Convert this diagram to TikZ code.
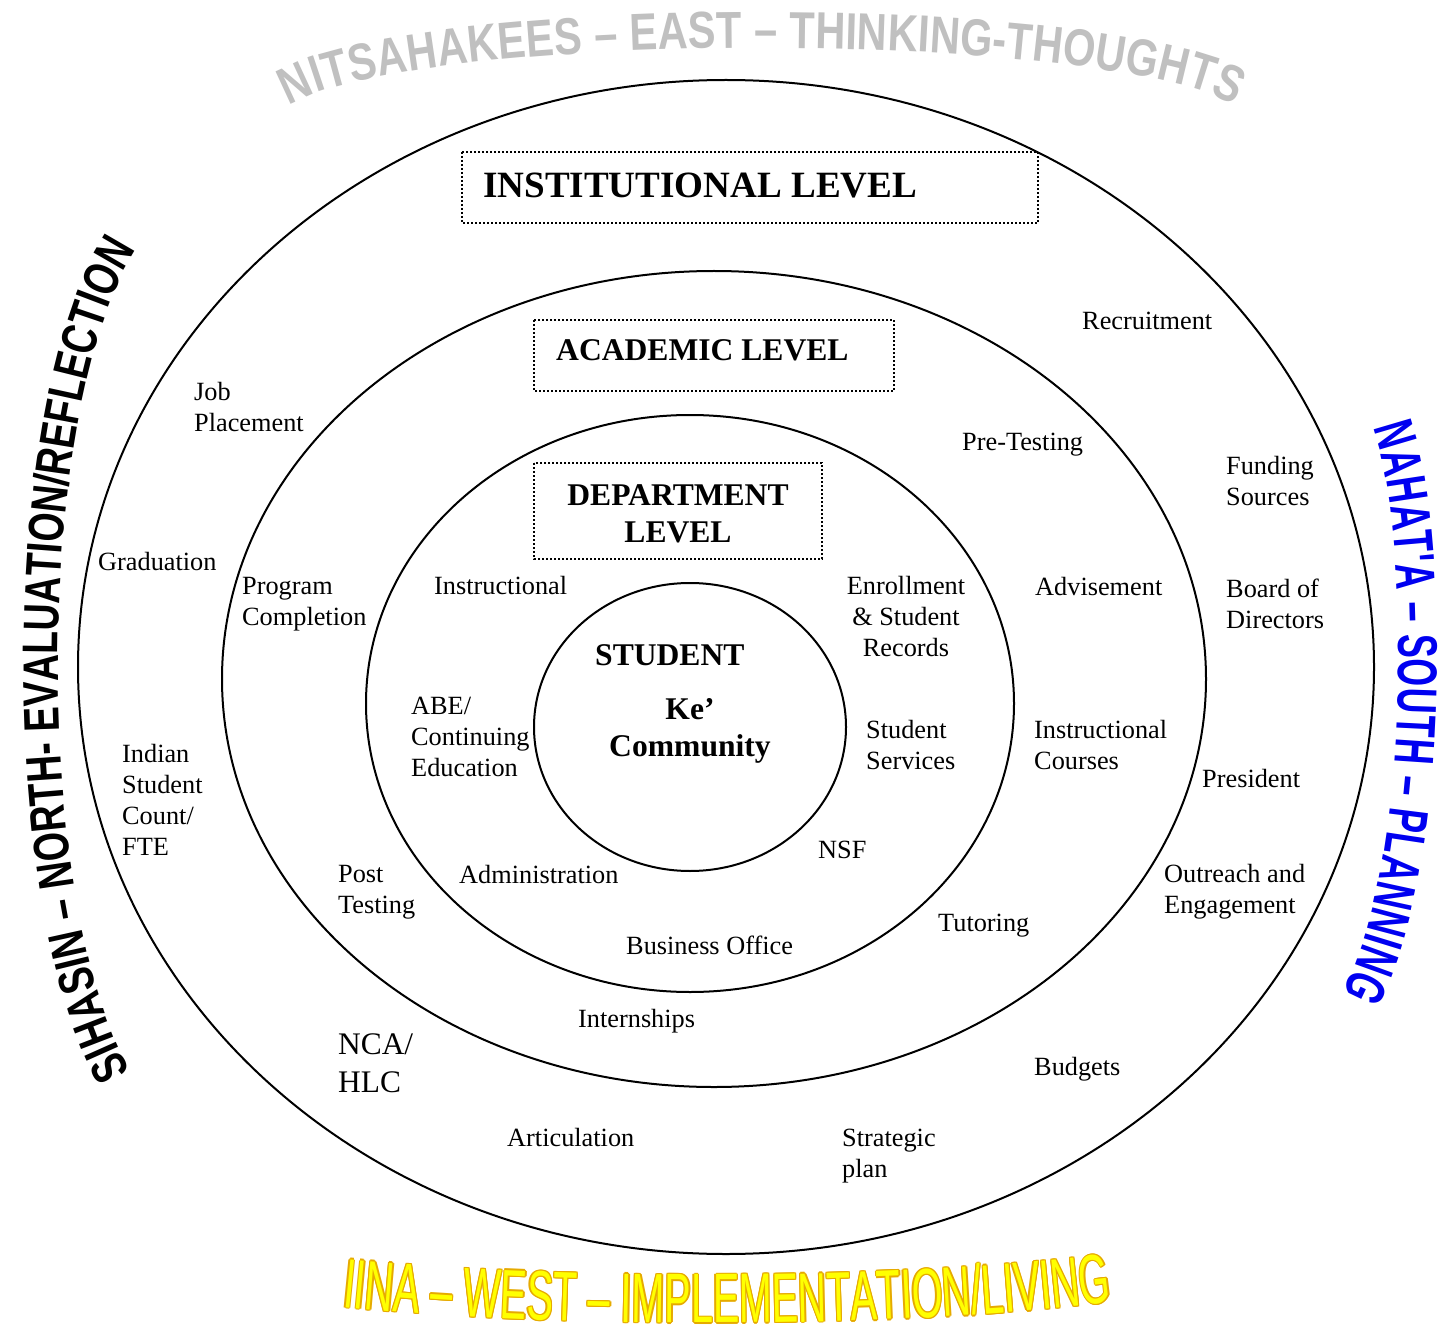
\documentclass[tikz,border=0pt]{standalone}
\usepackage{fontspec}
\setmainfont{Liberation Serif}
\newfontfamily\grayfont[FakeStretch=0.8]{Liberation Sans}
\newfontfamily\leftfont[FakeStretch=0.75]{Liberation Sans}
\newfontfamily\rightfont[FakeStretch=0.64]{Liberation Sans}
\newfontfamily\yelfont[FakeStretch=0.565]{Liberation Sans}
\usetikzlibrary{decorations.text}
\definecolor{wagray}{RGB}{192,192,192}
\definecolor{wablue}{RGB}{0,0,240}
\definecolor{wayellow}{RGB}{255,255,0}
\definecolor{waorange}{RGB}{230,170,0}
\tikzset{
  lab/.style={font=\fontsize{26.3}{31}\selectfont, inner sep=0pt, anchor=base west},
  labc/.style={lab, anchor=base},
  nlab/.style={font=\fontsize{31.4}{38}\selectfont, inner sep=0pt, anchor=base west},
  blab/.style={font=\fontsize{31.6}{37.5}\selectfont\bfseries, inner sep=0pt, anchor=base west},
  ring/.style={draw, line width=2pt},
  dotbox/.style={draw, line width=1.8pt, dash pattern=on 1.8pt off 2.2pt},
}
\begin{document}
\begin{tikzpicture}[x=1pt,y=-1pt]
\path[fill=white, use as bounding box] (0,0) rectangle (1443,1329);

% rings
\draw[ring] (726,667) ellipse [x radius=648, y radius=587];
\draw[ring] (714,679) ellipse [x radius=492, y radius=408];
\draw[ring] (690,703.5) ellipse [x radius=324, y radius=288.5];
\draw[ring] (690,727) ellipse [x radius=156, y radius=144];

% dotted boxes
\draw[dotbox] (462,152) rectangle (1038,223);
\draw[dotbox] (534,320) rectangle (894,391);
\draw[dotbox] (534,463) rectangle (822,559);

% level titles
\node[blab, font=\fontsize{37.1}{44}\selectfont\bfseries] (inst) at (483,198) {INSTITUTIONAL LEVEL};
\node[blab] (acad) at (556,361) {ACADEMIC LEVEL};
\node[blab, anchor=base] (dept) at (678,505) {\begin{tabular}[t]{@{}c@{}}DEPARTMENT\\LEVEL\end{tabular}};
\node[blab] (student) at (595,665) {STUDENT};
\node[blab, anchor=base] (ke) at (690,719) {\begin{tabular}[t]{@{}c@{}}Ke’\\Community\end{tabular}};

% labels
\node[lab] (recruit) at (1082,330) {Recruitment};
\node[lab] (job) at (194,401) {\begin{tabular}[t]{@{}l@{}}Job\\Placement\end{tabular}};
\node[lab] (pretest) at (962,450) {Pre-Testing};
\node[lab] (funding) at (1226,474) {\begin{tabular}[t]{@{}l@{}}Funding\\Sources\end{tabular}};
\node[lab] (grad) at (98,570) {Graduation};
\node[lab] (progcomp) at (242,594) {\begin{tabular}[t]{@{}l@{}}Program\\Completion\end{tabular}};
\node[lab] (instr) at (434,594) {Instructional};
\node[labc] (enroll) at (906,594) {\begin{tabular}[t]{@{}c@{}}Enrollment\\\& Student\\Records\end{tabular}};
\node[lab] (advise) at (1035,595) {Advisement};
\node[lab] (board) at (1226,597) {\begin{tabular}[t]{@{}l@{}}Board of\\Directors\end{tabular}};
\node[lab] (abe) at (411,714) {\begin{tabular}[t]{@{}l@{}}ABE/\\Continuing\\Education\end{tabular}};
\node[lab] (stserv) at (866,738) {\begin{tabular}[t]{@{}l@{}}Student\\Services\end{tabular}};
\node[lab] (instcourse) at (1034,738) {\begin{tabular}[t]{@{}l@{}}Instructional\\Courses\end{tabular}};
\node[lab] (indian) at (122,762) {\begin{tabular}[t]{@{}l@{}}Indian\\Student\\Count/\\FTE\end{tabular}};
\node[lab] (president) at (1202,787) {President};
\node[lab] (nsf) at (818,858) {NSF};
\node[lab] (outreach) at (1164,882) {\begin{tabular}[t]{@{}l@{}}Outreach and\\Engagement\end{tabular}};
\node[lab] (post) at (338,882) {\begin{tabular}[t]{@{}l@{}}Post\\Testing\end{tabular}};
\node[lab] (admin) at (459,883) {Administration};
\node[lab] (tutor) at (938,931) {Tutoring};
\node[lab] (busoff) at (626,954) {Business Office};
\node[lab] (intern) at (578,1027) {Internships};
\node[nlab] (nca) at (338,1054) {\begin{tabular}[t]{@{}l@{}}NCA/\\HLC\end{tabular}};
\node[lab] (budget) at (1034,1075) {Budgets};
\node[lab] (artic) at (507,1146) {Articulation};
\node[lab] (strat) at (842,1146) {\begin{tabular}[t]{@{}l@{}}Strategic\\plan\end{tabular}};

% curved direction texts
\path[decorate, decoration={text along path, text align=fit to path, text color=wagray,
  text={|\grayfont\bfseries\fontsize{52}{60}\selectfont|NITSAHAKEES – EAST – THINKING-THOUGHTS}}]
  (289.4,106.0) arc[start angle=192.5, end angle=347.5, x radius=484, y radius=74];

\path[decorate, decoration={text along path, text align=fit to path, text color=black,
  text={|\leftfont\bfseries\fontsize{50}{60}\selectfont|SIHASIN – NORTH- EVALUATION/REFLECTION}}]
  (130.9,1071.2) arc[start angle=115.5, end angle=244.5, x radius=128, y radius=450];

\path[decorate, decoration={text along path, text align=fit to path, text color=wablue,
  text={|\rightfont\bfseries\fontsize{56}{60}\selectfont|NAHAT'A – SOUTH – PLANNING}}]
  (1373,428) .. controls (1411,530) and (1411,870) .. (1342,992);

\foreach \dx/\dy in {1.3/0,-1.3/0,0/1.3,0/-1.3,0.9/0.9,-0.9/0.9,0.9/-0.9,-0.9/-0.9}{
  \path[decorate, shift={(\dx,\dy)}, decoration={text along path, text align=fit to path, text color=waorange,
    text={|\yelfont\fontsize{70}{80}\selectfont|IINA – WEST – IMPLEMENTATION/LIVING}}]
    (342,1307) .. controls (560,1329) and (900,1329) .. (1112,1302);
}
\path[decorate, decoration={text along path, text align=fit to path, text color=wayellow,
  text={|\yelfont\fontsize{70}{80}\selectfont|IINA – WEST – IMPLEMENTATION/LIVING}}]
  (342,1307) .. controls (560,1329) and (900,1329) .. (1112,1302);
\end{tikzpicture}
\end{document}
